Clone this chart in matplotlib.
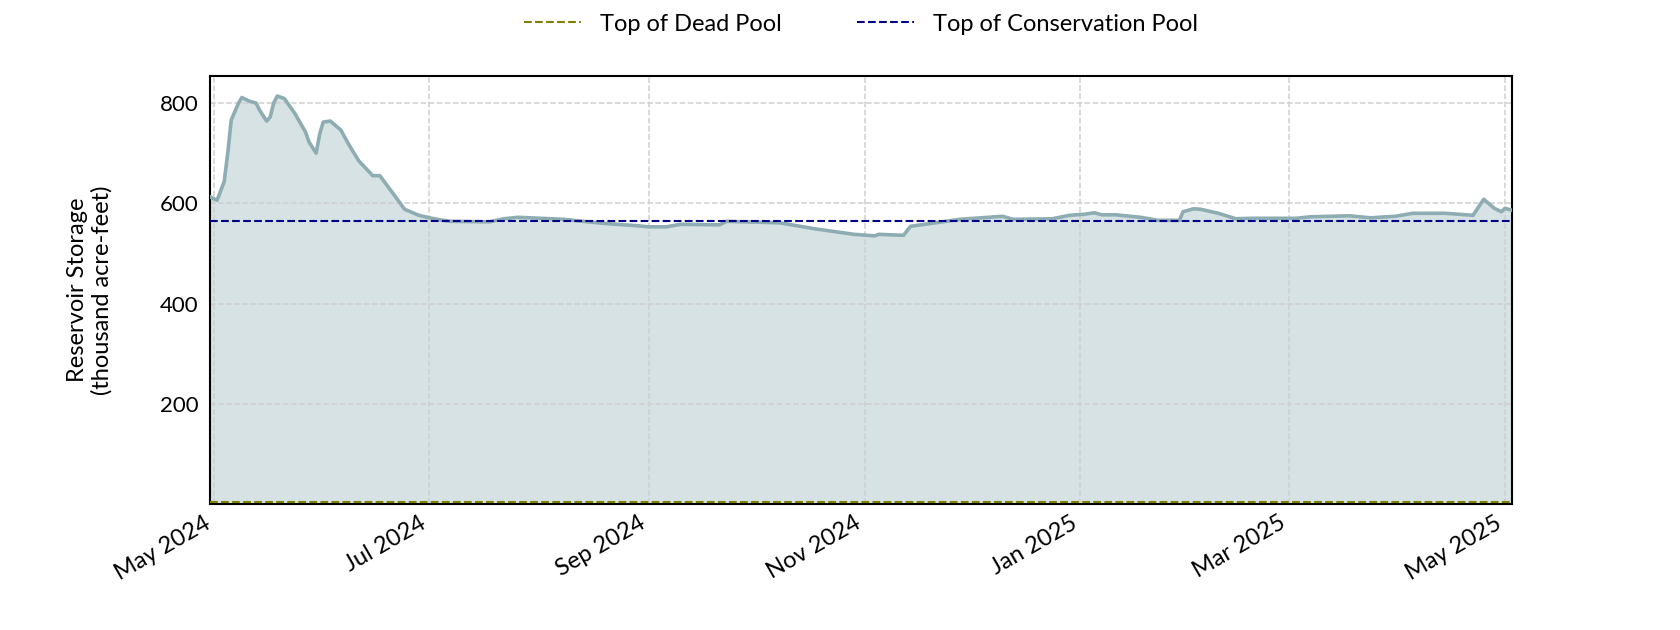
import matplotlib

matplotlib.use("Agg")

import matplotlib.dates as mdates
import matplotlib.pyplot as plt
import pandas as pd

plt.rcParams["font.family"] = ["Lato", "DejaVu Sans"]

dates = [
    "2024-04-30", "2024-05-02", "2024-05-04", "2024-05-05", "2024-05-06",
    "2024-05-08", "2024-05-09", "2024-05-11", "2024-05-13", "2024-05-14",
    "2024-05-16", "2024-05-17", "2024-05-18", "2024-05-19", "2024-05-21",
    "2024-05-24", "2024-05-27", "2024-05-28", "2024-05-30", "2024-05-31",
    "2024-06-01", "2024-06-03", "2024-06-06", "2024-06-08", "2024-06-11",
    "2024-06-13", "2024-06-15", "2024-06-17", "2024-06-19", "2024-06-21",
    "2024-06-24", "2024-06-28", "2024-07-01", "2024-07-04", "2024-07-07",
    "2024-07-18", "2024-07-22", "2024-07-26", "2024-08-08", "2024-08-19",
    "2024-08-29", "2024-09-01", "2024-09-06", "2024-09-10", "2024-09-21",
    "2024-09-23", "2024-10-08", "2024-10-18", "2024-10-29", "2024-11-04",
    "2024-11-05", "2024-11-12", "2024-11-14", "2024-11-21", "2024-11-28",
    "2024-12-10", "2024-12-13", "2024-12-24", "2024-12-29", "2025-01-02",
    "2025-01-05", "2025-01-07", "2025-01-11", "2025-01-18", "2025-01-23",
    "2025-01-29", "2025-01-30", "2025-02-02", "2025-02-04", "2025-02-09",
    "2025-02-14", "2025-02-18", "2025-03-03", "2025-03-07", "2025-03-18",
    "2025-03-24", "2025-03-31", "2025-04-05", "2025-04-14", "2025-04-22",
    "2025-04-25", "2025-04-28", "2025-04-30", "2025-05-01", "2025-05-03",
]

storage = [
    613, 606, 643, 699, 766,
    799, 811, 804, 800, 786,
    764, 772, 800, 814, 809,
    779, 742, 722, 700, 738,
    762, 764, 746, 720, 685,
    670, 655, 655, 636, 617,
    588, 576, 571, 567, 564,
    563, 569, 572, 568, 560,
    555, 553, 553, 558, 557,
    564, 561, 549, 538, 535,
    538, 536, 554, 561, 568,
    574, 568, 569, 576, 578,
    581, 577, 577, 572, 566,
    566, 583, 589, 588, 580,
    569, 570, 570, 573, 575,
    571, 574, 580, 580, 576,
    608, 590, 583, 590, 586,
]

dead_pool = 3
conservation_pool = 565

dates = pd.to_datetime(dates)

fig, ax = plt.subplots(figsize=(16.8, 6.3), dpi=100)

ax.grid(True, color="#cfcfcf", linestyle="--", linewidth=1.1, zorder=0)

ax.fill_between(dates, 0, storage, color="#8dadb3", alpha=0.35, linewidth=0, zorder=1)
ax.plot(dates, storage, color="#8dadb3", linewidth=2.6, zorder=3)

ax.axhline(dead_pool, color="#808000", linestyle="--", linewidth=1.5, label="Top of Dead Pool", zorder=4)
ax.axhline(conservation_pool, color="#00008b", linestyle="--", linewidth=1.5, label="Top of Conservation Pool", zorder=4)

ax.set_xlim(dates.min(), dates.max())
ax.set_ylim(0, max(storage) * 1.05)
ax.set_yticks([200, 400, 600, 800])

ax.xaxis.set_major_locator(mdates.MonthLocator(bymonth=[1, 3, 5, 7, 9, 11]))
ax.xaxis.set_major_formatter(mdates.DateFormatter("%b %Y"))

ax.set_ylabel("Reservoir Storage\n(thousand acre-feet)", fontsize=17, labelpad=34)
ax.tick_params(axis="y", length=0, labelsize=16, pad=8)
ax.tick_params(axis="x", length=0, labelsize=17, pad=6)

for spine in ax.spines.values():
    spine.set_linewidth(1.5)
    spine.set_color("black")

ax.legend(
    loc="center",
    bbox_to_anchor=(0.5, 1.12),
    ncol=2,
    frameon=False,
    fontsize=17,
    handlelength=2.4,
    columnspacing=3.2,
)

fig.autofmt_xdate()

plt.savefig("out.png", dpi=100)
